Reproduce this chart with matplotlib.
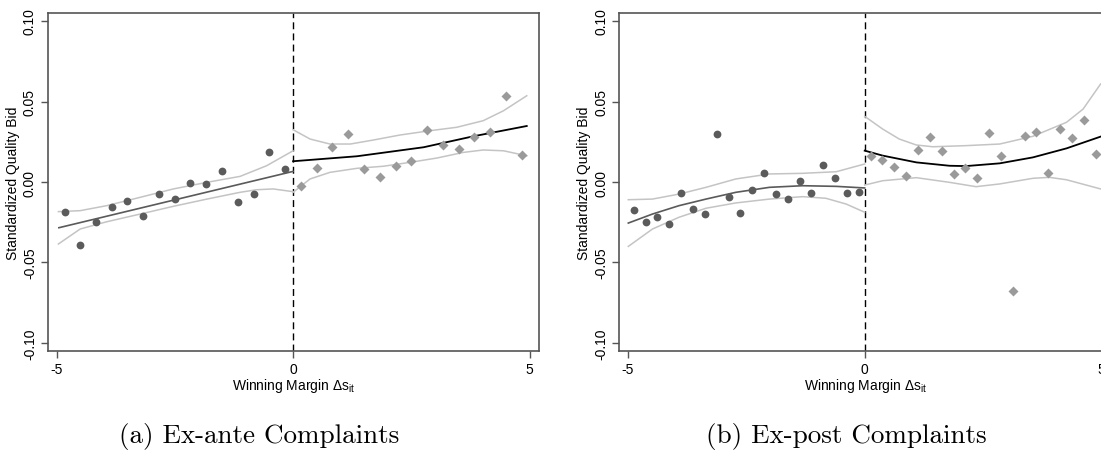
import matplotlib
matplotlib.use('Agg')
import matplotlib.pyplot as plt

plt.rcParams['font.family'] = ['Liberation Sans', 'DejaVu Sans']
plt.rcParams['mathtext.fontset'] = 'custom'
plt.rcParams['mathtext.rm'] = 'Liberation Sans'
plt.rcParams['mathtext.it'] = 'Liberation Sans'

# --- (a) ex-ante complaints: binned means ---
a_left_x = [-4.83, -4.5, -4.17, -3.83, -3.5, -3.17, -2.83, -2.5, -2.17, -1.83,
            -1.5, -1.17, -0.83, -0.5, -0.17]
a_left_y = [-0.0184, -0.039, -0.0248, -0.0157, -0.012, -0.0211, -0.0077, -0.0106,
            -0.0008, -0.0012, 0.0070, -0.0122, -0.0075, 0.0186, 0.0079]
a_right_x = [0.17, 0.5, 0.83, 1.17, 1.5, 1.83, 2.17, 2.5, 2.83, 3.17,
             3.5, 3.83, 4.17, 4.5, 4.83]
a_right_y = [-0.0027, 0.0085, 0.0217, 0.030, 0.0083, 0.0031, 0.0097, 0.0132,
             0.0323, 0.0230, 0.0203, 0.0277, 0.0311, 0.0534, 0.0168]

# fitted line and confidence band, left of cutoff
a_fitL_x = [-4.95, 0.0]
a_fitL_y = [-0.0284, 0.0066]
a_ciL_hi_x = [-4.96, -4.50, -3.94, -3.23, -2.53, -1.82, -1.12, -0.56, 0.0]
a_ciL_hi = [-0.0184, -0.0178, -0.0147, -0.0095, -0.0043, -0.0002, 0.0035, 0.0101, 0.0194]
a_ciL_lo_x = [-4.96, -4.50, -3.94, -3.23, -2.53, -1.82, -1.12, -0.77, -0.42, 0.0]
a_ciL_lo = [-0.0385, -0.0292, -0.0247, -0.0199, -0.0151, -0.0106, -0.0064, -0.0048,
            -0.0043, -0.0060]
# right of cutoff
a_fitR_x = [0.0, 1.35, 2.76, 3.81, 4.94]
a_fitR_y = [0.0129, 0.0160, 0.0216, 0.0284, 0.0348]
a_ciR_hi_x = [0.0, 0.36, 0.78, 1.21, 1.70, 2.26, 2.90, 3.46, 4.02, 4.45, 4.94]
a_ciR_hi = [0.0325, 0.0267, 0.0236, 0.0236, 0.0261, 0.0292, 0.0319, 0.0340, 0.0381,
            0.0443, 0.0536]
a_ciR_lo_x = [0.0, 0.36, 0.78, 1.35, 1.91, 2.47, 3.04, 3.60, 4.02, 4.45, 4.94]
a_ciR_lo = [-0.0064, 0.0019, 0.0060, 0.0085, 0.0098, 0.0122, 0.0149, 0.0184, 0.0199,
            0.0194, 0.0163]

# --- (b) ex-post complaints: binned means ---
b_left_x = [-4.875, -4.625, -4.375, -4.125, -3.875, -3.625, -3.375, -3.125, -2.875, -2.625,
            -2.375, -2.125, -1.875, -1.625, -1.375, -1.125, -0.875, -0.625, -0.375, -0.125]
b_left_y = [-0.0174, -0.0246, -0.0217, -0.0261, -0.0066, -0.0166, -0.0201, 0.0296,
            -0.0091, -0.0193, -0.0048, 0.0056, -0.0077, -0.0104, 0.0008, -0.0068,
            0.0108, 0.0023, -0.0068, -0.0060]
b_right_x = [0.125, 0.375, 0.625, 0.875, 1.125, 1.375, 1.625, 1.875, 2.125, 2.375,
             2.625, 2.875, 3.125, 3.375, 3.625, 3.875, 4.125, 4.375, 4.625, 4.875]
b_right_y = [0.0164, 0.0137, 0.0091, 0.0037, 0.0199, 0.0282, 0.0190, 0.0048,
             0.0087, 0.0027, 0.0302, 0.0161, -0.0677, 0.0284, 0.0313, 0.0056,
             0.0329, 0.0275, 0.0387, 0.0174]

b_curveL_x = [-4.99, -4.48, -3.92, -3.35, -2.72, -2.01, -1.31, -0.60, 0.0]
b_fitL_y = [-0.0255, -0.0199, -0.0147, -0.0106, -0.0064, -0.0033, -0.0023, -0.0027, -0.0037]
b_ciL_hi = [-0.0110, -0.0106, -0.0075, -0.0033, 0.0019, 0.0050, 0.0054, 0.0064, 0.0112]
b_ciL_lo_x = [-4.99, -4.48, -3.92, -3.35, -2.72, -2.01, -1.31, -0.82, -0.39, 0.0]
b_ciL_lo = [-0.0400, -0.0292, -0.0219, -0.0163, -0.0130, -0.0106, -0.0091, -0.0101,
            -0.0137, -0.0188]

b_fitR_x = [0.0, 0.38, 1.09, 1.79, 2.14, 2.85, 3.55, 4.26, 4.98]
b_fitR_y = [0.0195, 0.0164, 0.0122, 0.0101, 0.0099, 0.0116, 0.0153, 0.0209, 0.0282]
b_ciR_hi_x = [0.0, 0.38, 0.73, 1.09, 1.44, 2.14, 2.85, 3.55, 4.26, 4.61, 4.98]
b_ciR_hi = [0.0408, 0.0329, 0.0267, 0.0230, 0.0219, 0.0226, 0.0236, 0.0284, 0.0371,
            0.0453, 0.0609]
b_ciR_lo_x = [0.0, 0.38, 1.09, 1.79, 2.35, 2.85, 3.55, 3.9, 4.26, 4.98]
b_ciR_lo = [-0.0019, 0.0008, 0.0027, -0.0002, -0.0029, -0.0012, 0.0023, 0.0029,
            0.0014, -0.0043]

COL_DOT = '#5b5b5b'
COL_DIA = '#9a9a9a'
COL_CI = '#c4c4c4'
COL_FRAME = '#555555'

fig = plt.figure(figsize=(11.01, 4.52), dpi=100)
ax_a = fig.add_axes([0.0436, 0.2212, 0.446, 0.7478])
ax_b = fig.add_axes([0.5625, 0.2212, 0.4466, 0.7478])


def draw_panel(ax, lx, ly, rx, ry, fitL, fitR, bands, caption, cap_x):
    for bx, by in bands:
        ax.plot(bx, by, color=COL_CI, lw=1.1, zorder=2)
    ax.plot(fitL[0], fitL[1], color='#5a5a5a', lw=1.2, zorder=3)
    ax.plot(fitR[0], fitR[1], color='black', lw=1.3, zorder=3)
    ax.plot(lx, ly, 'o', color=COL_DOT, ms=5.6, mec='none', zorder=4)
    ax.plot(rx, ry, 'D', color=COL_DIA, ms=5.4, mec='none', zorder=4)
    ax.axvline(0, color='black', ls=(0, (5, 3)), lw=1.0, zorder=1)

    ax.set_xlim(-5.18, 5.2)
    ax.set_ylim(-0.105, 0.105)
    ax.set_xticks([-5, 0, 5])
    ax.set_xticklabels(['-5', '0', '5'])
    ax.set_yticks([-0.10, -0.05, 0.0, 0.05, 0.10])
    ax.set_yticklabels(['-0.10', '-0.05', '0.00', '0.05', '0.10'], rotation=90, va='center')
    ax.tick_params(direction='out', length=5, width=1, color=COL_FRAME,
                   labelsize=10, pad=3, top=False, right=False)
    for s in ax.spines.values():
        s.set_color(COL_FRAME)
        s.set_linewidth(1.2)
    ax.set_xlabel(r'Winning Margin $\Delta s_{it}$', fontsize=10, labelpad=0)
    ax.set_ylabel('Standardized Quality Bid', fontsize=10, labelpad=2)
    fig.text(cap_x, 0.004, caption, fontsize=19.5, family='cmr10', ha='center', va='bottom')


draw_panel(ax_a, a_left_x, a_left_y, a_right_x, a_right_y,
           (a_fitL_x, a_fitL_y), (a_fitR_x, a_fitR_y),
           [(a_ciL_hi_x, a_ciL_hi), (a_ciL_lo_x, a_ciL_lo),
            (a_ciR_hi_x, a_ciR_hi), (a_ciR_lo_x, a_ciR_lo)],
           '(a) Ex-ante Complaints', 259 / 1101)
draw_panel(ax_b, b_left_x, b_left_y, b_right_x, b_right_y,
           (b_curveL_x, b_fitL_y), (b_fitR_x, b_fitR_y),
           [(b_curveL_x, b_ciL_hi), (b_ciL_lo_x, b_ciL_lo),
            (b_ciR_hi_x, b_ciR_hi), (b_ciR_lo_x, b_ciR_lo)],
           '(b) Ex-post Complaints', 846 / 1101)

fig.savefig('out.png', dpi=100)
